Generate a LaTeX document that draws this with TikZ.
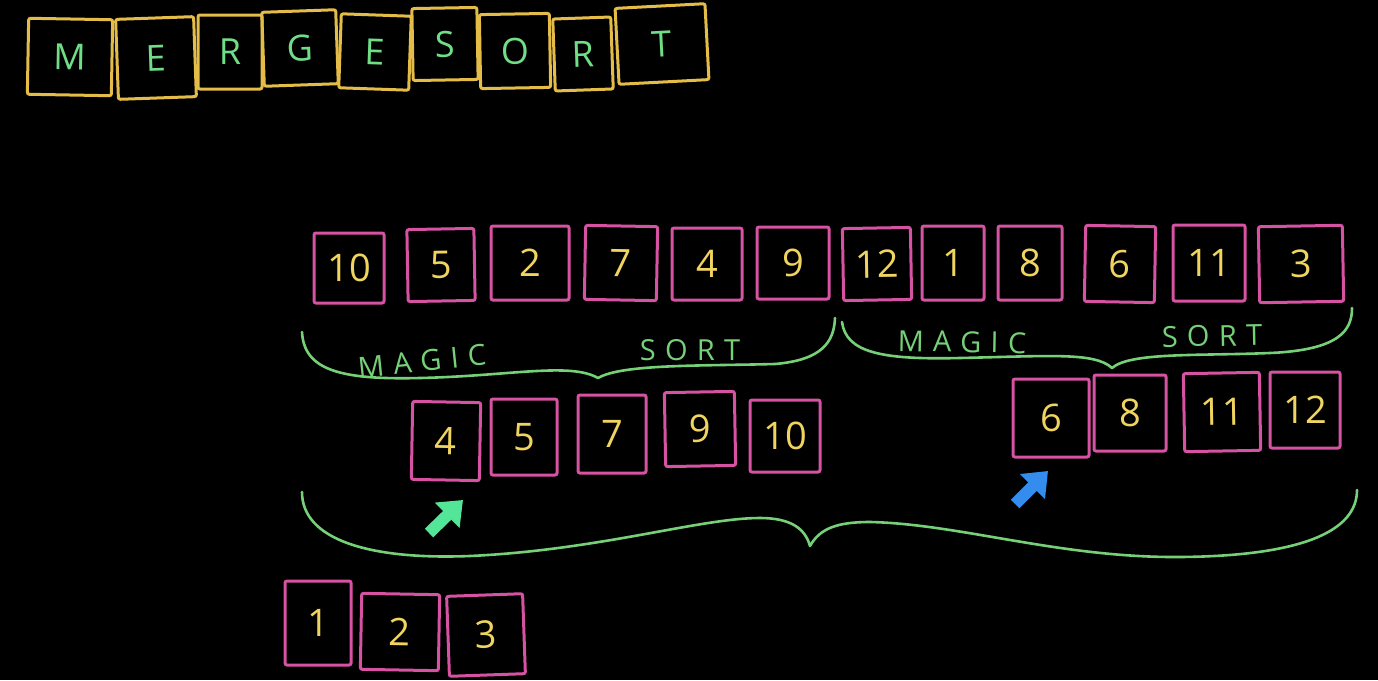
\documentclass[tikz,border=0pt]{standalone}
\usepackage{fontspec}
\setmainfont{Open Sans}
\newfontfamily\wideface[LetterSpace=32]{Open Sans}
\usetikzlibrary{arrows.meta}
\definecolor{boxyellow}{RGB}{228,188,72}
\definecolor{titlegreen}{RGB}{112,222,134}
\definecolor{boxpink}{RGB}{214,82,162}
\definecolor{numyellow}{RGB}{240,212,96}
\definecolor{bracegreen}{RGB}{118,208,120}
\definecolor{arrowgreen}{RGB}{84,230,152}
\definecolor{arrowblue}{RGB}{52,140,238}

\begin{document}
\begin{tikzpicture}[x=1pt,y=-1pt,
letter/.style = {draw=boxyellow, line width=3pt, rounded corners=2pt, inner sep=0pt, text=titlegreen, font=\fontsize{36}{36}\selectfont},
cell/.style = {draw=boxpink, line width=3pt, rounded corners=2pt, inner sep=0pt, text=numyellow, font=\fontsize{38}{38}\selectfont},
sz/.style 2 args = {minimum width=#1pt, minimum height=#2pt},
tag/.style = {inner sep=0pt, text=bracegreen, font=\wideface\fontsize{29}{29}\selectfont},
brace/.style = {draw=bracegreen, line width=2.6pt, line cap=round, line join=round},
push/.style = {line width=12pt, -{Triangle[length=22pt,width=34pt]}}]

\fill[black] (0,0) rectangle (1378,680);
\useasboundingbox (0,0) rectangle (1378,680);

% title
\node[letter, sz={84}{76}, rotate=-1] (t1) at (70,57) {M};
\node[letter, sz={78}{80}, rotate=2] (t2) at (156,58) {E};
\node[letter, sz={64}{74}] (t3) at (230,52) {R};
\node[letter, sz={74}{74}, rotate=2] (t4) at (300,48) {G};
\node[letter, sz={70}{74}, rotate=-2] (t5) at (375,52) {E};
\node[letter, sz={65}{72}, rotate=1] (t6) at (445,44) {S};
\node[letter, sz={70}{74}, rotate=1] (t7) at (515,51) {O};
\node[letter, sz={58}{72}, rotate=2] (t8) at (583,54) {R};
\node[letter, sz={90}{76}, rotate=3] (t9) at (662,44) {T};

% unsorted row
\node[cell, sz={70}{70}] (a1) at (349,268) {10};
\node[cell, sz={67}{72}, rotate=1] (a2) at (441,265) {5};
\node[cell, sz={78}{74}] (a3) at (530,263) {2};
\node[cell, sz={72}{74}, rotate=-1] (a4) at (621,263) {7};
\node[cell, sz={70}{72}] (a5) at (707,264) {4};
\node[cell, sz={72}{72}] (a6) at (793,263) {9};
\node[cell, sz={68}{72}, rotate=1] (a7) at (877,264) {12};
\node[cell, sz={62}{74}] (a8) at (953,263) {1};
\node[cell, sz={64}{74}] (a9) at (1030,263) {8};
\node[cell, sz={70}{76}, rotate=-1] (a10) at (1120,264) {6};
\node[cell, sz={72}{76}] (a11) at (1209,263) {11};
\node[cell, sz={84}{76}, rotate=1] (a12) at (1301,264) {3};

% two halves
\draw[brace] (302,332) .. controls (304,370) and (340,380) .. (420,378)
  .. controls (510,376) and (570,362) .. (598,378)
  .. controls (622,364) and (700,366) .. (775,364)
  .. controls (822,360) and (834,342) .. (835,318);
\node[tag, rotate=6] (mg1) at (422,361) {MAGIC};
\node[tag] (st1) at (690,350) {SORT};

\draw[brace] (842,322) .. controls (846,352) and (880,360) .. (960,358)
  .. controls (1050,356) and (1095,352) .. (1112,368)
  .. controls (1130,352) and (1200,356) .. (1270,353)
  .. controls (1340,350) and (1352,330) .. (1352,308);
\node[tag, rotate=-1] (mg2) at (962,342) {MAGIC};
\node[tag, rotate=1] (st2) at (1212,336) {SORT};

% sorted halves
\node[cell, sz={68}{78}, rotate=-1] (l1) at (446,441) {4};
\node[cell, sz={66}{76}] (l2) at (524,437) {5};
\node[cell, sz={68}{78}] (l3) at (612,434) {7};
\node[cell, sz={70}{74}, rotate=1] (l4) at (700,429) {9};
\node[cell, sz={70}{72}] (l5) at (785,436) {10};

\node[cell, sz={76}{78}] (r1) at (1051,418) {6};
\node[cell, sz={72}{76}] (r2) at (1130,413) {8};
\node[cell, sz={76}{78}, rotate=1] (r3) at (1222,412) {11};
\node[cell, sz={70}{76}] (r4) at (1305,410) {12};

% pointers
\coordinate (gt) at (429,533);
\coordinate (gh) at (463,500);
\coordinate (bt) at (1015,504);
\coordinate (bh) at (1048,471);
\draw[push, arrowgreen] (gt) -- (gh);
\draw[push, arrowblue] (bt) -- (bh);

% merge
\draw[brace] (302,492) .. controls (302,540) and (370,560) .. (470,556)
  .. controls (600,550) and (700,518) .. (760,518)
  .. controls (790,518) and (805,528) .. (810,546)
  .. controls (820,528) and (838,522) .. (870,522)
  .. controls (960,524) and (1060,558) .. (1180,557)
  .. controls (1300,556) and (1357,532) .. (1357,490);

% merged output
\node[cell, sz={66}{84}] (m1) at (318,623) {1};
\node[cell, sz={78}{76}, rotate=-1] (m2) at (400,632) {2};
\node[cell, sz={76}{80}, rotate=2] (m3) at (486,635) {3};

\end{tikzpicture}
\end{document}
